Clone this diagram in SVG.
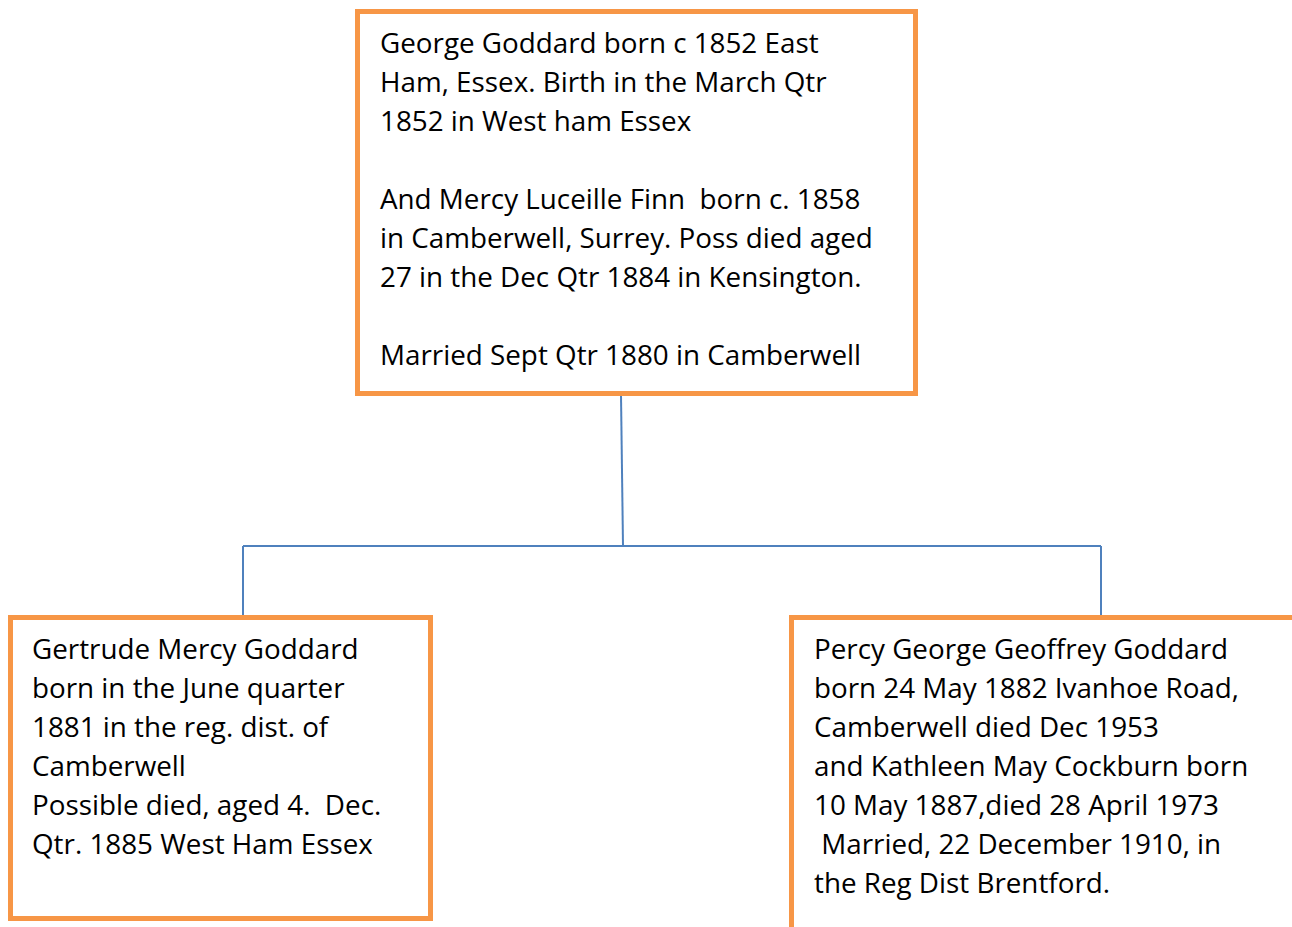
<svg xmlns="http://www.w3.org/2000/svg" width="1292" height="927" viewBox="0 0 1292 927">
<style>
.box{fill:#ffffff;stroke:#f79646;stroke-width:5}
.t{font-family:"Open Sans","Liberation Sans",sans-serif;font-size:27.8px;fill:#000000}
.c{fill:none;stroke:#4f81bd;stroke-width:2}
</style>
<rect width="1292" height="927" fill="#ffffff"/>
<g id="connectors">
<path class="c" d="M621,395 L623,546"/>
<path class="c" d="M243,546 L1101,546"/>
<path class="c" d="M243,546 L243,617"/>
<path class="c" d="M1101,546 L1101,615"/>
</g>
<g id="parents">
<rect class="box" x="357.5" y="11.5" width="558" height="382"/>
<text class="t" x="380" y="53">George Goddard born c 1852 East</text>
<text class="t" x="380" y="92">Ham, Essex. Birth in the March Qtr</text>
<text class="t" x="380" y="131">1852 in West ham Essex</text>
<text class="t" x="380" y="209" xml:space="preserve">And Mercy Luceille Finn  born c. 1858</text>
<text class="t" x="380" y="248">in Camberwell, Surrey. Poss died aged</text>
<text class="t" x="380" y="287">27 in the Dec Qtr 1884 in Kensington.</text>
<text class="t" x="380" y="365">Married Sept Qtr 1880 in Camberwell</text>
</g>
<g id="gertrude">
<rect class="box" x="10.5" y="617.5" width="420" height="301"/>
<text class="t" x="32" y="659">Gertrude Mercy Goddard</text>
<text class="t" x="32" y="698">born in the June quarter</text>
<text class="t" x="32" y="737">1881 in the reg. dist. of</text>
<text class="t" x="32" y="776">Camberwell</text>
<text class="t" x="32" y="815" xml:space="preserve">Possible died, aged 4.  Dec.</text>
<text class="t" x="32" y="854">Qtr. 1885 West Ham Essex</text>
</g>
<g id="percy">
<rect class="box" x="791.5" y="617.5" width="520" height="330"/>
<text class="t" x="814" y="659">Percy George Geoffrey Goddard</text>
<text class="t" x="814" y="698">born 24 May 1882 Ivanhoe Road,</text>
<text class="t" x="814" y="737">Camberwell died Dec 1953</text>
<text class="t" x="814" y="776">and Kathleen May Cockburn born</text>
<text class="t" x="814" y="815">10 May 1887,died 28 April 1973</text>
<text class="t" x="814" y="854" xml:space="preserve"> Married, 22 December 1910, in</text>
<text class="t" x="814" y="893">the Reg Dist Brentford.</text>
</g>
</svg>
